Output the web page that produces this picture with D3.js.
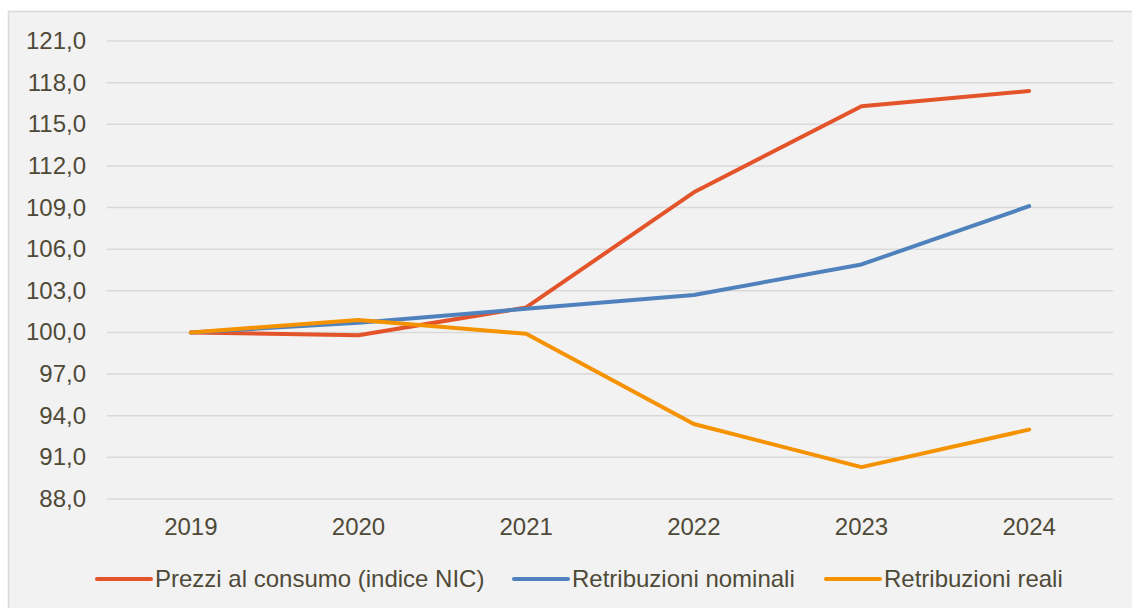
<!DOCTYPE html>
<html>
<head>
<meta charset="utf-8">
<script src="https://cdn.jsdelivr.net/npm/d3@7"></script>
<style>
  body { margin: 0; background: #fff; }
  text { font-family: "Liberation Sans", Arial, sans-serif; fill: #4f4a38; }
</style>
</head>
<body>
<div id="chart"></div>
<script>
var years = ["2019", "2020", "2021", "2022", "2023", "2024"];
var prezzi = [100.0, 99.8, 101.8, 110.1, 116.3, 117.4];
var nominali = [100.0, 100.7, 101.7, 102.7, 104.9, 109.1];
var reali = [100.0, 100.9, 99.9, 93.4, 90.3, 93.0];
var yTicks = [88, 91, 94, 97, 100, 103, 106, 109, 112, 115, 118, 121];

var series = [
  { name: "Prezzi al consumo (indice NIC)", values: prezzi, color: "#e4542a" },
  { name: "Retribuzioni nominali", values: nominali, color: "#4f81bd" },
  { name: "Retribuzioni reali", values: reali, color: "#f59200" }
];

var width = 1132,
    height = 608,
    plotLeft = 107, plotRight = 1113, plotTop = 41, plotBottom = 499;

var svg = d3.select("#chart").append("svg")
    .attr("width", width)
    .attr("height", height);

svg.append("rect")
    .attr("x", 8.5).attr("y", 11.5)
    .attr("width", 1140).attr("height", 620)
    .attr("fill", "#f2f2f2")
    .attr("stroke", "#d9d9d9")
    .attr("stroke-width", 1.5);

var x = d3.scaleBand().domain(years).range([plotLeft, plotRight]);
var y = d3.scaleLinear().domain([88, 121]).range([plotBottom, plotTop]);

// gridlines
svg.append("g").selectAll("line")
    .data(yTicks)
  .enter().append("line")
    .attr("x1", plotLeft).attr("x2", plotRight)
    .attr("y1", function(d) { return y(d); })
    .attr("y2", function(d) { return y(d); })
    .attr("stroke", "#d9d9d9")
    .attr("stroke-width", 1.5);

var fmt = function(d) { return d3.format(".1f")(d).replace(".", ","); };

svg.append("g").selectAll("text")
    .data(yTicks)
  .enter().append("text")
    .attr("x", 86)
    .attr("y", function(d) { return y(d) + 8; })
    .attr("text-anchor", "end")
    .style("font-size", "24px")
    .text(fmt);

svg.append("g").selectAll("text")
    .data(years)
  .enter().append("text")
    .attr("x", function(d) { return x(d) + x.bandwidth() / 2; })
    .attr("y", 535)
    .attr("text-anchor", "middle")
    .style("font-size", "24px")
    .text(function(d) { return d; });

var line = d3.line()
    .x(function(d, i) { return x(years[i]) + x.bandwidth() / 2; })
    .y(function(d) { return y(d); });

series.forEach(function(s) {
  svg.append("path")
      .attr("d", line(s.values))
      .attr("fill", "none")
      .attr("stroke", s.color)
      .attr("stroke-width", 4)
      .attr("stroke-linecap", "round")
      .attr("stroke-linejoin", "round");
});

// legend
var legendX = [97, 514, 826];
series.forEach(function(s, i) {
  var g = svg.append("g").attr("transform", "translate(" + legendX[i] + ",579)");
  g.append("line")
      .attr("x1", 0).attr("x2", 54)
      .attr("stroke", s.color)
      .attr("stroke-width", 4)
      .attr("stroke-linecap", "round");
  g.append("text")
      .attr("x", 58).attr("y", 8)
      .style("font-size", "24px")
      .text(s.name);
});
</script>
</body>
</html>
